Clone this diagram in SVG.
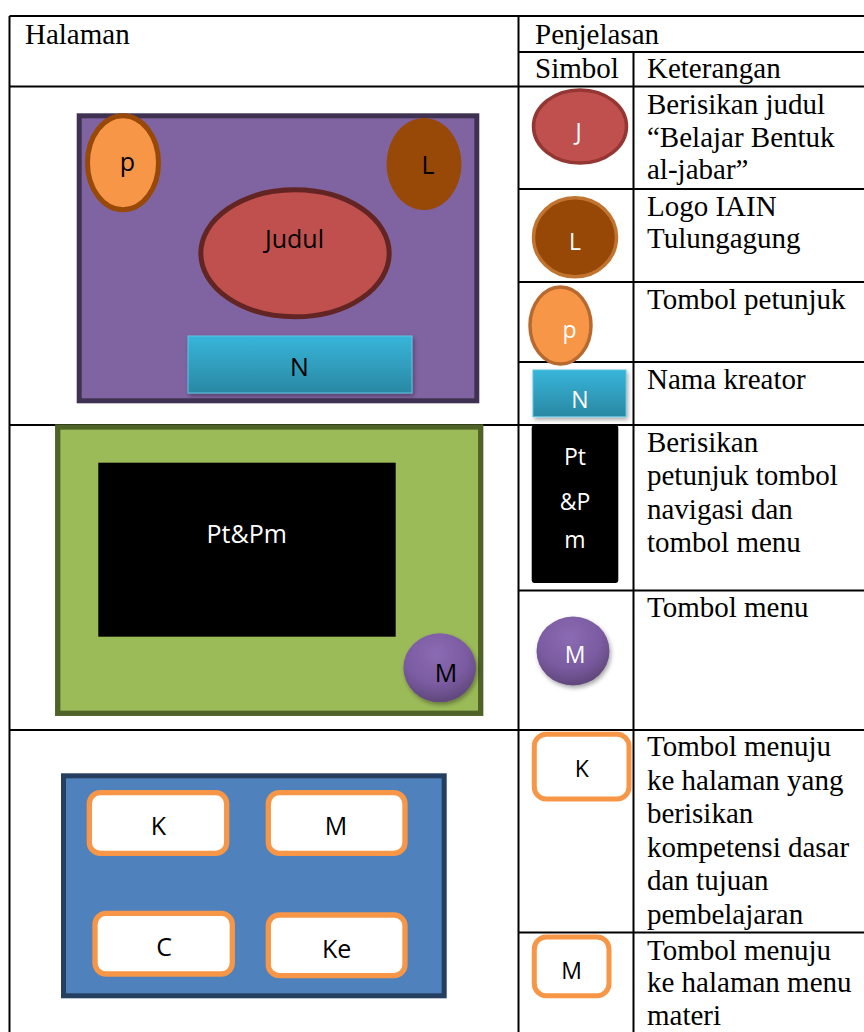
<svg xmlns="http://www.w3.org/2000/svg" width="864" height="1032" viewBox="0 0 864 1032">
<style>
.ln{stroke:#000;stroke-width:2;fill:none}
.tx{font-family:"Liberation Serif","Times New Roman",serif;font-size:29px;fill:#000}
.sn{font-family:"Open Sans","Noto Sans",sans-serif;font-size:25px;text-anchor:middle;fill:#000}
.ss{font-family:"Open Sans","Noto Sans",sans-serif;font-size:23px;text-anchor:middle;fill:#fff}
.btn{fill:#fff;stroke:#f79646;stroke-width:5.3}
</style>
<defs>
<linearGradient id="gN" x1="0" y1="0" x2="0" y2="1"><stop offset="0" stop-color="#37b5d9"/><stop offset="1" stop-color="#2a88a3"/></linearGradient>
<radialGradient id="gM" cx="0.45" cy="0.3" r="0.75"><stop offset="0" stop-color="#8b6bb3"/><stop offset="0.6" stop-color="#7a5aa0"/><stop offset="1" stop-color="#5a4474"/></radialGradient>
<filter id="sh" x="-20%" y="-20%" width="150%" height="150%"><feDropShadow dx="1.5" dy="2.5" stdDeviation="2" flood-color="#000" flood-opacity="0.35"/></filter>
</defs>
<rect width="864" height="1032" fill="#fff"/>
<g id="table">
<path class="ln" d="M9.5 16H864M9.5 16V1032M518.5 16V1032M633.5 52V1032M518.5 52H864M9.5 86.5H864M518.5 189H864M518.5 282H864M518.5 362H864M9.5 425H864M518.5 590.5H864M9.5 730H864M518.5 932.5H864"/>
<text class="tx" x="25" y="44">Halaman</text>
<text class="tx" x="535" y="44">Penjelasan</text>
<text class="tx" x="535" y="78">Simbol</text>
<text class="tx" x="647" y="78">Keterangan</text>
</g>
<g id="page-title">
<rect x="79.2" y="115.8" width="397.6" height="285" fill="#8064a2" stroke="#3f3151" stroke-width="5"/>
<ellipse cx="123" cy="162.8" rx="35.5" ry="47" fill="#f79646" stroke="#984807" stroke-width="5"/>
<text class="sn" x="127.5" y="171">p</text>
<ellipse cx="424" cy="164" rx="37.5" ry="46" fill="#984807"/>
<text class="sn" x="428" y="174">L</text>
<ellipse cx="295" cy="253.3" rx="94.2" ry="63.5" fill="#c0504d" stroke="#632523" stroke-width="5"/>
<text class="sn" x="294.5" y="248">Judul</text>
<rect x="188" y="336" width="224" height="57" fill="url(#gN)" stroke="#5cc4e0" stroke-width="1" filter="url(#sh)"/>
<text class="sn" x="299.5" y="376">N</text>
</g>
<g id="page-petunjuk">
<rect x="57.7" y="427" width="423" height="286.3" fill="#9bbb59" stroke="#4f6228" stroke-width="5.3"/>
<rect x="98.3" y="462.7" width="297.4" height="174" fill="#000"/>
<text class="sn" x="246.7" y="543" style="fill:#fff">Pt&amp;Pm</text>
<ellipse cx="439.7" cy="667.8" rx="36.3" ry="34.5" fill="url(#gM)" filter="url(#sh)"/>
<text class="sn" x="446" y="681.5">M</text>
</g>
<g id="page-menu">
<rect x="63.5" y="775.8" width="380.7" height="220" fill="#4f81bd" stroke="#243f60" stroke-width="5"/>
<rect class="btn" x="89.3" y="792.7" width="137.4" height="60.7" rx="11"/>
<text class="sn" x="158.3" y="835">K</text>
<rect class="btn" x="268.3" y="792.7" width="136.7" height="60.7" rx="11"/>
<text class="sn" x="336" y="835">M</text>
<rect class="btn" x="95" y="913.3" width="137.3" height="60.7" rx="11"/>
<text class="sn" x="164" y="955.7">C</text>
<rect class="btn" x="268.3" y="915" width="136.7" height="60.7" rx="11"/>
<text class="sn" x="336.7" y="957.7">Ke</text>
</g>
<g id="sym-judul">
<ellipse cx="580" cy="126.5" rx="46.5" ry="36.5" fill="#c0504d" stroke="#943634" stroke-width="3.5"/>
<text class="ss" x="578.5" y="140">J</text>
<text class="tx" x="647" y="114">Berisikan judul</text>
<text class="tx" x="647" y="147">“Belajar Bentuk</text>
<text class="tx" x="647" y="179">al-jabar”</text>
</g>
<g id="sym-logo">
<ellipse cx="575" cy="237.3" rx="41.5" ry="39.5" fill="#974706" stroke="#c0742f" stroke-width="3.5"/>
<text class="ss" x="575" y="250">L</text>
<text class="tx" x="647" y="216">Logo IAIN</text>
<text class="tx" x="647" y="248">Tulungagung</text>
</g>
<g id="sym-petunjuk">
<ellipse cx="560.5" cy="325.5" rx="30.5" ry="38.5" fill="#f79646" stroke="#b8692f" stroke-width="3.5"/>
<text class="ss" x="569.5" y="338">p</text>
<text class="tx" x="647" y="309">Tombol petunjuk</text>
</g>
<g id="sym-nama">
<rect x="533" y="370" width="93" height="46.7" fill="url(#gN)" stroke="#5cc4e0" stroke-width="1" filter="url(#sh)"/>
<text class="ss" x="580" y="408">N</text>
<text class="tx" x="647" y="389">Nama kreator</text>
</g>
<g id="sym-ptpm">
<rect x="531.7" y="425" width="86.6" height="158" rx="3" fill="#000"/>
<text class="ss" x="575" y="465">Pt</text>
<text class="ss" x="575" y="510">&amp;P</text>
<text class="ss" x="575" y="548">m</text>
<text class="tx" x="647" y="452">Berisikan</text>
<text class="tx" x="647" y="485">petunjuk tombol</text>
<text class="tx" x="647" y="518.5">navigasi dan</text>
<text class="tx" x="647" y="552">tombol menu</text>
</g>
<g id="sym-menu">
<ellipse cx="573" cy="651" rx="36.5" ry="34.5" fill="url(#gM)" filter="url(#sh)"/>
<text class="ss" x="575" y="663">M</text>
<text class="tx" x="647" y="617">Tombol menu</text>
</g>
<g id="sym-kompetensi">
<rect class="btn" x="534.3" y="734.3" width="94.7" height="64.7" rx="12" style="stroke-width:5"/>
<text class="ss" x="581.7" y="777" style="fill:#000">K</text>
<text class="tx" x="647" y="756">Tombol menuju</text>
<text class="tx" x="647" y="789.5">ke halaman yang</text>
<text class="tx" x="647" y="823">berisikan</text>
<text class="tx" x="647" y="856.5">kompetensi dasar</text>
<text class="tx" x="647" y="890">dan tujuan</text>
<text class="tx" x="647" y="923.5">pembelajaran</text>
</g>
<g id="sym-materi">
<rect class="btn" x="534.3" y="937" width="74.7" height="58.7" rx="12" style="stroke-width:5"/>
<text class="ss" x="571.7" y="978.5" style="fill:#000">M</text>
<text class="tx" x="647" y="959.5">Tombol menuju</text>
<text class="tx" x="647" y="992">ke halaman menu</text>
<text class="tx" x="647" y="1025">materi</text>
</g>
</svg>
